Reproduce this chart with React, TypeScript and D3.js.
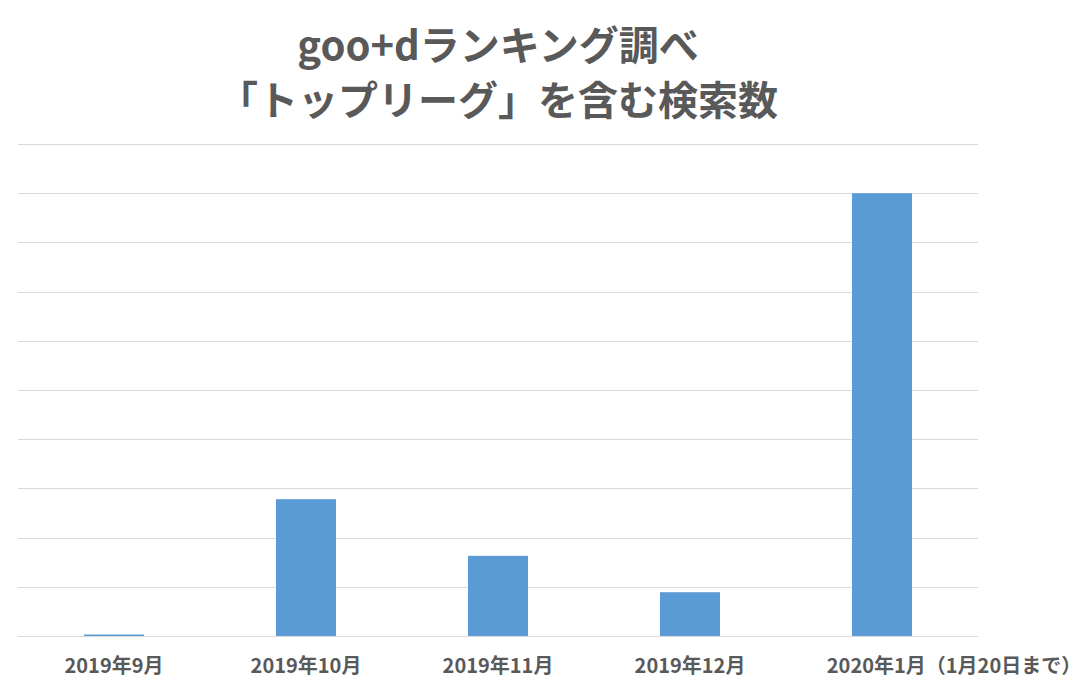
import React, { useEffect, useRef } from "react";
import * as d3 from "d3";

// data
const titleLines = ["goo+dランキング調べ", "「トップリーグ」を含む検索数"];
const months = ["2019年9月", "2019年10月", "2019年11月", "2019年12月", "2020年1月（1月20日まで）"];
const searchCounts = [0.03, 2.78, 1.63, 0.89, 9.0];
const gridTicks = [0, 1, 2, 3, 4, 5, 6, 7, 8, 9, 10];

const W = 1084;
const H = 688;
const FONT = "'Noto Sans CJK JP', 'Noto Sans', sans-serif";
const TEXT = "#595959";

const App = () => {
  const ref = useRef<SVGSVGElement | null>(null);

  useEffect(() => {
    const svg = d3.select(ref.current);
    svg.selectAll("*").remove();

    const margin = { left: 18, right: 106, top: 144, bottom: 52 };

    const x = d3
      .scaleBand<string>()
      .domain(months)
      .range([margin.left, W - margin.right])
      .paddingInner(0.6875)
      .paddingOuter(0.34375);
    const y = d3
      .scaleLinear()
      .domain([0, 10])
      .range([H - margin.bottom, margin.top]);

    // Title
    svg
      .append("g")
      .selectAll("text")
      .data(titleLines)
      .enter()
      .append("text")
      .attr("x", (margin.left + W - margin.right) / 2)
      .attr("y", (_, i) => 60 + i * 55)
      .attr("text-anchor", "middle")
      .attr("font-family", FONT)
      .attr("font-weight", "bold")
      .attr("font-size", 40)
      .attr("fill", TEXT)
      .text((d) => d);

    // Gridlines
    svg
      .append("g")
      .selectAll("line")
      .data(gridTicks)
      .enter()
      .append("line")
      .attr("x1", margin.left)
      .attr("x2", W - margin.right)
      .attr("y1", (d) => Math.round(y(d)) + 0.5)
      .attr("y2", (d) => Math.round(y(d)) + 0.5)
      .attr("stroke", "#d9d9d9")
      .attr("stroke-width", 1);

    // Bars
    svg
      .append("g")
      .selectAll("rect")
      .data(searchCounts)
      .enter()
      .append("rect")
      .attr("x", (_, i) => x(months[i]) ?? 0)
      .attr("y", (d) => y(d))
      .attr("width", x.bandwidth())
      .attr("height", (d) => y(0) - y(d))
      .attr("fill", "#5b9bd5");

    // Category labels
    svg
      .append("g")
      .selectAll("text")
      .data(months)
      .enter()
      .append("text")
      .attr("x", (d) => (x(d) ?? 0) + x.bandwidth() / 2)
      .attr("dx", (_, i) => (i === months.length - 1 ? 72 : 0))
      .attr("y", H - 15)
      .attr("text-anchor", "middle")
      .attr("font-family", FONT)
      .attr("font-weight", "bold")
      .attr("font-size", 20)
      .attr("fill", TEXT)
      .text((d) => d);
  }, []);

  return (
    <div style={{ position: "fixed", left: 0, top: 0, background: "#fff" }}>
      <svg ref={ref} width={W} height={H} />
    </div>
  );
};

export default App;
